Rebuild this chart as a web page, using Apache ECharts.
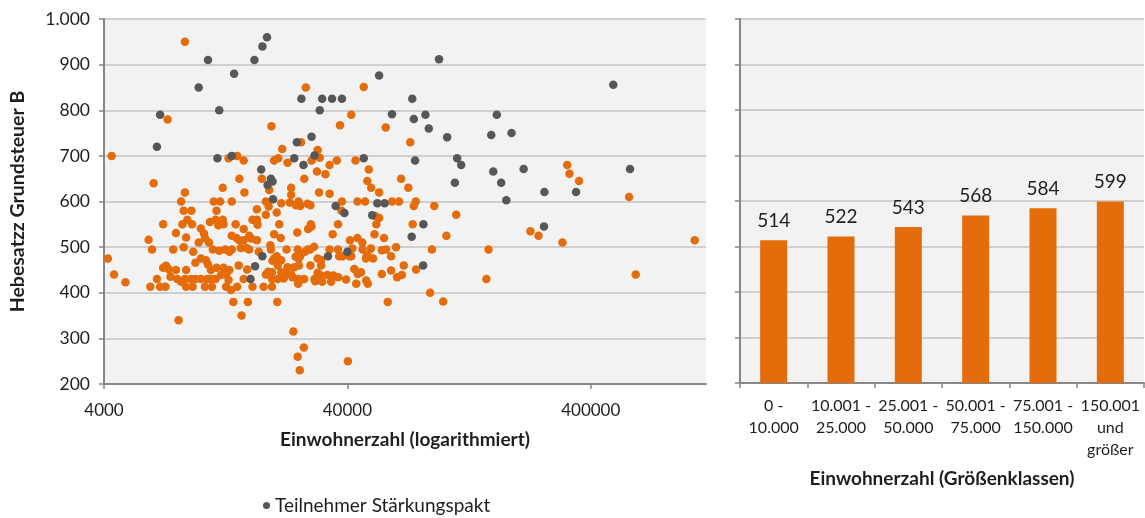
<!DOCTYPE html>
<html><head><meta charset="utf-8">
<script src="https://cdn.jsdelivr.net/npm/echarts@6/dist/echarts.min.js"></script>
<style>html,body{margin:0;padding:0;background:#fff}#c{width:1145px;height:518px}</style>
</head><body><div id="c"></div>
<script>
// Kategorien (Größenklassen) und Mittelwerte
const sizeClasses = ['0 -\n10.000', '10.001 -\n25.000', '25.001 -\n50.000', '50.001 -\n75.000', '75.001 -\n150.000', '150.001\nund\ngrößer'];
const meanRateByClass = [514, 522, 543, 568, 584, 599];
const xTickValues = [4000, 40000, 400000];

// [Einwohner, Hebesatz B] – Teilnehmer Stärkungspakt
const paktParticipants = [
 [6800,790],[6600,720],[9800,850],[10700,910],[11900,800],[11700,695],[13700,880],[13400,700],
 [16600,910],[17900,940],[18700,960],[17700,670],[18800,636],[19400,650],[19700,644],[19800,605],
 [24200,695],[24800,730],[26400,680],[25900,825],[28500,742],[29300,701],[30800,800],[31500,825],
 [34600,825],[38000,825],[46700,695],[54000,876],[61000,791],[73900,825],[75000,781],[83700,790],
 [86400,760],[95200,912],[102800,741],[75900,690],[113000,695],[117400,680],[110600,641],[156000,746],
 [164500,790],[189000,750],[159000,666],[171400,641],[212000,671],[180000,603],[258000,621],[348000,621],
 [495000,856],[580000,671],[257000,545],[53100,596],[56900,596],[35800,590],[38900,575],[50600,570],
 [82100,550],[73500,523],[40000,490],[33300,480],[81900,460],[17900,480],[16700,458],[16000,430]
];

// [Einwohner, Hebesatz B] – übrige Kommunen
const otherMunicipalities = [
 [4300,700],[8600,950],[7300,780],[6400,640],[8600,620],[14100,700],[13000,695],[15000,690],[14400,650],[15100,620],
 [12300,630],[19500,765],[21600,715],[20000,690],[20800,695],[22700,685],[17800,650],[19100,625],[23500,630],[23500,615],
 [25800,730],[27000,850],[28500,690],[30200,713],[30800,696],[26600,650],[30000,666],[32500,660],[30600,620],[33800,680],
 [36200,690],[33800,617],[37300,767],[41500,790],[43200,690],[46700,851],[49000,670],[48300,645],[50100,630],[54000,620],
 [57500,762],[66500,650],[72500,730],[71200,630],[320000,680],[327000,661],[358000,645],[575000,610],
 [8300,600],[11300,600],[12000,600],[13400,600],[18500,600],[25200,600],[38000,600],[44000,600],[47300,600],[61000,600],[65200,600],[76400,600],
 [21400,596],[23200,598],[25600,590],[27400,595],[24600,592],[28200,592],[19000,589],[17000,583],[20500,576],[18500,571],
 [8500,580],[9150,580],[11600,580],[75000,590],[91000,590],[37800,580],[112000,571],[52000,568],[54000,564],
 [7000,550],[8400,550],[8800,560],[9200,550],[10900,555],[11500,560],[12300,560],[11800,548],[12400,550],[13900,550],
 [15000,540],[16300,560],[17000,560],[17100,549],[21000,550],[28300,550],[28500,545],[27600,540],[36600,550],[52600,550],[74200,550],
 [6100,516],[7900,531],[8700,521],[10000,541],[10300,530],[10400,520],[10800,510],[9800,510],[13400,525],[14000,520],
 [14400,515],[15000,515],[15800,525],[16100,519],[17000,515],[20000,528],[21300,520],[24900,532],[19300,504],[34800,528],
 [41000,515],[44000,520],[46100,510],[51700,528],[56600,520],[102100,525],
 [6300,495],[7700,495],[8500,500],[9300,490],[11200,495],[11900,492],[12600,495],[13400,495],[13100,490],[14600,498],
 [15400,498],[15800,495],[17300,490],[19400,495],[22500,495],[25000,495],[26800,490],[27500,495],[28100,495],[29200,501],
 [33800,495],[36600,495],[41900,497],[46200,495],[50000,497],[55400,493],[57700,495],[63400,500],[89000,495],[152000,495],
 [4150,475],[10000,475],[20500,480],[20800,472],[19700,470],[20000,475],[21400,471],[24500,479],[25600,480],[25200,475],
 [30200,475],[31200,472],[38200,480],[41500,480],[37000,480],[40900,480],[48000,480],[48300,482],[47700,475],[51000,475],[60500,480],
 [7000,455],[7200,459],[7400,451],[7900,450],[8700,450],[9500,466],[10500,471],[10700,462],[11000,450],[11600,455],
 [12400,455],[13100,450],[14300,460],[15500,451],[18900,446],[20700,460],[21400,445],[22700,456],[24200,456],[25300,460],
 [28200,460],[31200,460],[42700,452],[44100,441],[45500,445],[60500,449],[68200,460],[76600,451],
 [4400,440],[6600,430],[7500,435],[8000,430],[8600,430],[9100,430],[9500,430],[10000,430],[10600,430],[11000,430],
 [11500,430],[12100,439],[12700,440],[13000,428],[15000,430],[18500,440],[19600,430],[20700,430],[21900,431],[22400,440],
 [23500,440],[19600,445],[23800,434],[25200,430],[26600,430],[29300,430],[30200,444],[31200,438],[33100,439],[35000,438],
 [36700,434],[39500,429],[55400,441],[64000,434],[67000,439],[612000,440],
 [4900,423],[6200,413],[6800,413],[7150,413],[8300,424],[8700,413],[9250,413],[10400,413],[11100,413],[12700,413],
 [13300,406],[14100,413],[16300,413],[18100,413],[19600,413],[25100,420],[25200,423],[29500,425],[31500,424],[34300,424],
 [43500,420],[47800,427],[48500,420],[149000,430],
 [87500,400],[99000,381],[58600,380],[13600,380],[15600,380],[20600,380],[14700,350],[8100,340],[24000,315],[26500,280],
 [25000,260],[25500,230],[40200,250],
 [226000,535],[244000,525],[306000,510],[1070000,515]
];

const FONT = 'Lato, "Liberation Sans", sans-serif';
const TXT = '#1e1e1e';
const AXIS = '#868686';
const GRIDC = '#c3c3c3';
const ORANGE = '#E46C0A';
const GREY = '#575757';
const fmtDE = v => String(v).replace(/\B(?=(\d{3})+(?!\d))/g, '.');

const chart = echarts.init(document.getElementById('c'), null, {renderer: 'canvas'});
chart.setOption({
  animation: false,
  textStyle: {fontFamily: FONT},
  grid: [
    {left: 103, top: 19, width: 603, height: 365, show: true, backgroundColor: '#f2f2f2', borderWidth: 0},
    {left: 740, top: 19, width: 404, height: 364, show: true, backgroundColor: '#f2f2f2', borderWidth: 0}
  ],
  xAxis: [
    {
      type: 'log', gridIndex: 0, logBase: 10, min: 4000, max: 1190000,
      axisLine: {show: true, lineStyle: {color: AXIS, width: 2}},
      axisTick: {show: true, length: 5, customValues: xTickValues, lineStyle: {color: AXIS, width: 1.5}},
      axisLabel: {customValues: xTickValues, formatter: v => String(Math.round(v)), fontSize: 17, color: TXT, margin: 18, fontFamily: FONT},
      splitLine: {show: false}, minorTick: {show: false}, minorSplitLine: {show: false},
      name: 'Einwohnerzahl (logarithmiert)', nameLocation: 'middle', nameGap: 46,
      nameTextStyle: {fontWeight: 'bold', fontSize: 19, color: TXT, fontFamily: FONT}
    },
    {
      type: 'category', gridIndex: 1, data: sizeClasses,
      axisLine: {show: true, lineStyle: {color: AXIS, width: 2}},
      axisTick: {show: true, length: 5, lineStyle: {color: AXIS, width: 1.5}},
      axisLabel: {interval: 0, fontSize: 16, lineHeight: 22, color: TXT, margin: 12, fontFamily: FONT},
      name: 'Einwohnerzahl (Größenklassen)', nameLocation: 'middle', nameGap: 86,
      nameTextStyle: {fontWeight: 'bold', fontSize: 19, color: TXT, fontFamily: FONT}
    }
  ],
  yAxis: [
    {
      type: 'value', gridIndex: 0, min: 200, max: 1000, interval: 100,
      axisLine: {show: true, lineStyle: {color: AXIS, width: 2}},
      axisTick: {show: true, length: 5, lineStyle: {color: AXIS, width: 1.5}},
      axisLabel: {formatter: fmtDE, fontSize: 17.5, color: TXT, margin: 14, fontFamily: FONT},
      splitLine: {show: true, lineStyle: {color: GRIDC, width: 1.5}},
      name: 'Hebesatzz Grundsteuer B', nameLocation: 'middle', nameGap: 76,
      nameTextStyle: {fontWeight: 'bold', fontSize: 19.5, color: TXT, fontFamily: FONT}
    },
    {
      type: 'value', gridIndex: 1, min: 200, max: 1000, interval: 100,
      axisLine: {show: true, lineStyle: {color: AXIS, width: 2}},
      axisTick: {show: true, length: 5, lineStyle: {color: AXIS, width: 1.5}},
      axisLabel: {show: false},
      splitLine: {show: true, lineStyle: {color: GRIDC, width: 1.5}}
    }
  ],
  legend: {
    data: ['Teilnehmer Stärkungspakt'], left: 258, top: 491, icon: 'circle',
    itemWidth: 7, itemHeight: 7, itemGap: 10,
    textStyle: {fontSize: 19, color: TXT, fontFamily: FONT}
  },
  series: [
    {
      type: 'scatter', name: 'Übrige Kommunen', xAxisIndex: 0, yAxisIndex: 0,
      data: otherMunicipalities, symbolSize: 8.5, itemStyle: {color: ORANGE, opacity: 1}
    },
    {
      type: 'scatter', name: 'Teilnehmer Stärkungspakt', xAxisIndex: 0, yAxisIndex: 0,
      data: paktParticipants, symbolSize: 8.5, itemStyle: {color: GREY, opacity: 1}
    },
    {
      type: 'bar', name: 'Durchschnitt', xAxisIndex: 1, yAxisIndex: 1,
      data: meanRateByClass, barWidth: 27, itemStyle: {color: ORANGE},
      label: {show: true, position: 'top', distance: 10, fontSize: 19, color: TXT, fontFamily: FONT}
    }
  ]
});
</script>
</body></html>
